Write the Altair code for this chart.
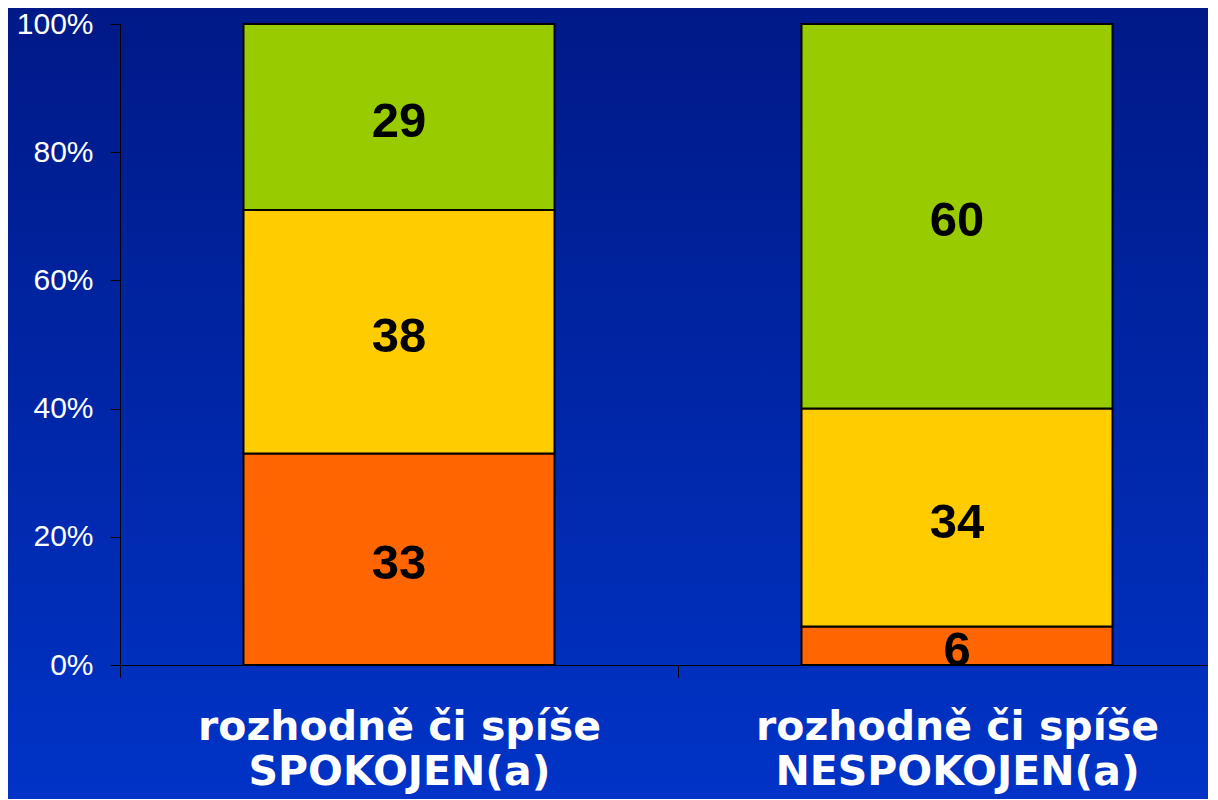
import altair as alt
import pandas as pd

categories = ["rozhodně či spíše\nSPOKOJEN(a)", "rozhodně či spíše\nNESPOKOJEN(a)"]
segments = ["rozhodně či spíše spokojen", "ani", "nespokojen"]  # bottom -> top
seg_colors = ["#FF6600", "#FFCC00", "#99CC00"]
orange_vals = [33, 6]
yellow_vals = [38, 34]
green_vals = [29, 60]
y_ticks = [0, 0.2, 0.4, 0.6, 0.8, 1.0]

rows = []
for i, c in enumerate(categories):
    for k, (s, vals) in enumerate(zip(segments, [orange_vals, yellow_vals, green_vals])):
        rows.append({"cat": c, "seg": s, "ord": k, "val": vals[i]})
df = pd.DataFrame(rows)

W, H = 1088, 641

x_enc = alt.X(
    "cat:N",
    sort=categories,
    scale=alt.Scale(range=[0, 1116], paddingInner=0, paddingOuter=0),
    axis=alt.Axis(
        title=None,
        labelAngle=0,
        labelExpr="split(datum.label, '\\n')",
        labelFont="DejaVu Sans",
        labelFontWeight="bold",
        labelFontSize=41,
        labelLineHeight=45,
        labelColor="white",
        labelBaseline="top",
        labelPadding=30,
        labelLimit=800,
        tickBand="extent",
        tickSize=12,
        tickColor="black",
        domainColor="black",
        grid=False,
        zindex=1,
    ),
)

y_scale = alt.Scale(domain=[0, 1])

bg = alt.Chart(pd.DataFrame({"a": [0]})).mark_rect(
    fill=alt.Gradient(
        gradient="linear",
        stops=[alt.GradientStop(color="#001987", offset=0),
               alt.GradientStop(color="#0034C8", offset=1)],
        x1=0, x2=0, y1=0, y2=1,
    )
).encode(
    x=alt.value(-120), x2=alt.value(W + 200),
    y=alt.value(-20), y2=alt.value(H + 150),
)

bars = alt.Chart(df).mark_bar(size=311, stroke="black", strokeWidth=2).encode(
    x=x_enc,
    y=alt.Y(
        "val:Q",
        stack="normalize",
        scale=y_scale,
        axis=alt.Axis(
            title=None,
            values=y_ticks,
            format=".0%",
            labelFont="Liberation Sans",
            labelFontSize=30,
            labelColor="white",
            labelPadding=17,
            tickSize=10,
            tickColor="black",
            domainColor="black",
            grid=False,
            zindex=1,
        ),
    ),
    color=alt.Color("seg:N", scale=alt.Scale(domain=segments, range=seg_colors), legend=None),
    order=alt.Order("ord:Q", sort="ascending"),
)

labels = alt.Chart(df).transform_joinaggregate(
    total="sum(val)", groupby=["cat"]
).transform_window(
    cum="sum(val)", sort=[alt.SortField("ord")], groupby=["cat"]
).transform_calculate(
    mid="(datum.cum - datum.val / 2) / datum.total"
).mark_text(
    font="Liberation Sans", fontWeight="bold", fontSize=49, color="black", baseline="middle", dy=5
).encode(
    x=alt.X("cat:N", sort=categories),
    y=alt.Y("mid:Q", scale=y_scale),
    text=alt.Text("val:Q"),
)

chart = alt.layer(bg, bars, labels).properties(
    width=W,
    height=H,
    autosize=alt.AutoSizeParams(type="none"),
    padding={"left": 112, "top": 16, "right": 0, "bottom": 134},
    background="#0026A8",
).configure_view(strokeWidth=0)

chart.save("out.html", embed_options={"renderer": "svg", "actions": False})
